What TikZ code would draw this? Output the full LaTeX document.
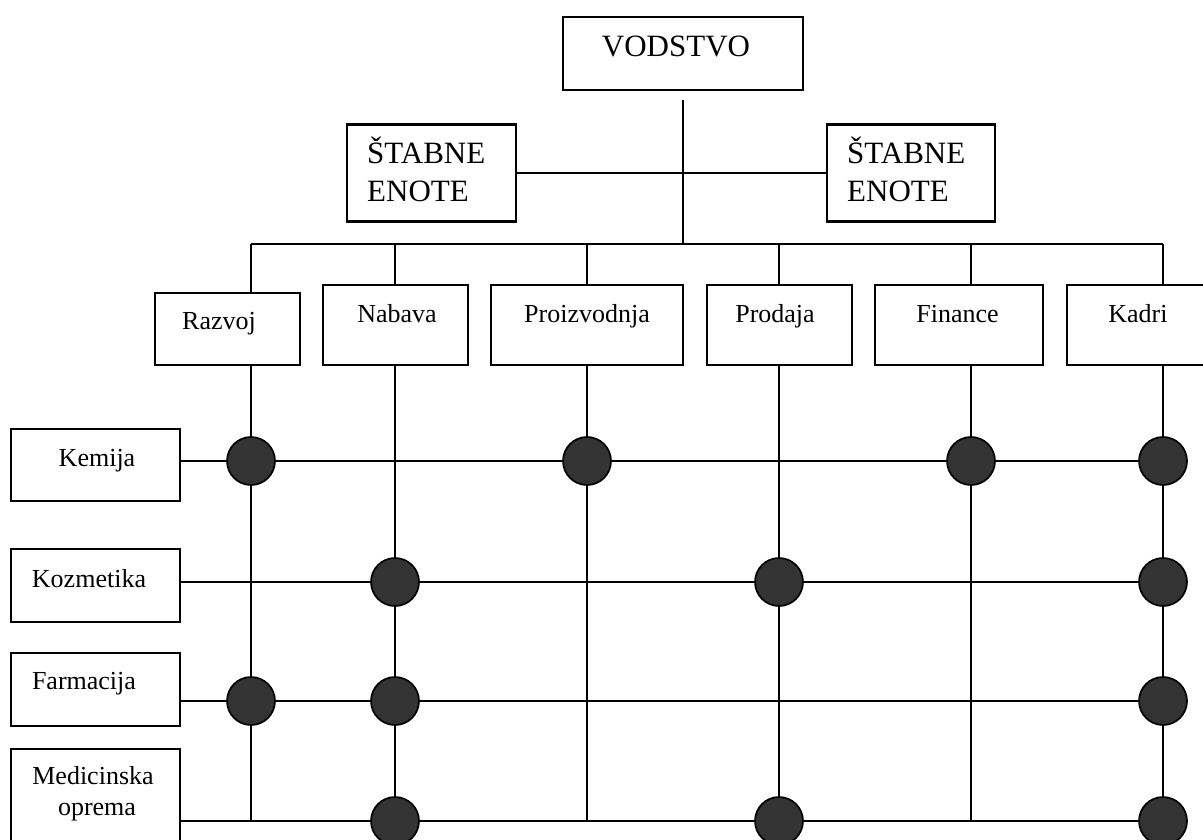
\documentclass[tikz,border=0pt]{standalone}
\usepackage{fontspec}
\setmainfont{Liberation Serif}
\definecolor{dotfill}{HTML}{333333}
\begin{document}
\begin{tikzpicture}[x=1pt,y=-1pt,
  box/.style={draw, line width=2.2pt, inner sep=0pt},
  wire/.style={line width=2pt},
  dot/.style={circle, draw, line width=1.7pt, fill=dotfill, minimum size=48pt, inner sep=0pt},
  bigtext/.style={inner sep=0pt, font=\fontsize{31}{36}\selectfont},
  lbl/.style={inner sep=0pt, anchor=base, font=\fontsize{26}{30}\selectfont}]
\useasboundingbox (0,0) rectangle (1203,840);
\clip (0,0) rectangle (1203,840);

% column and row positions of the matrix
\coordinate (c1) at (251,244);
\coordinate (c2) at (395,244);
\coordinate (c3) at (587,244);
\coordinate (c4) at (779,244);
\coordinate (c5) at (971,244);
\coordinate (c6) at (1163,244);
\coordinate (r1) at (180,461);
\coordinate (r2) at (180,582);
\coordinate (r3) at (180,701);
\coordinate (r4) at (180,821);
\coordinate (trunktop) at (683,100);
\coordinate (hub) at (683,244);

% top management and staff units
\node[box, minimum width=240pt, minimum height=73pt] (vod) at (683,53.5) {};
\node[bigtext, anchor=base] (vodt) at (676,57) {VODSTVO};
\node[box, minimum width=169pt, minimum height=97pt] (stabL) at (431.5,173) {};
\node[bigtext, anchor=base west] (stabL1) at (367,164) {ŠTABNE};
\node[bigtext, anchor=base west] (stabL2) at (367,202) {ENOTE};
\node[box, minimum width=168pt, minimum height=97pt] (stabR) at (911,173) {};
\node[bigtext, anchor=base west] (stabR1) at (847,164) {ŠTABNE};
\node[bigtext, anchor=base west] (stabR2) at (847,202) {ENOTE};

% functional departments
\node[box, minimum width=145pt, minimum height=72pt] (razvoj) at (227.5,329) {};
\node[box, minimum width=145pt, minimum height=80pt] (nabava) at (395.5,325) {};
\node[box, minimum width=192pt, minimum height=80pt] (proizv) at (587,325) {};
\node[box, minimum width=145pt, minimum height=80pt] (prodaja) at (779.5,325) {};
\node[box, minimum width=168pt, minimum height=80pt] (finance) at (959,325) {};
\node[box, minimum width=143pt, minimum height=80pt] (kadri) at (1138.5,325) {};
\node[lbl] (razvojt) at (219,329) {Razvoj};
\node[lbl] (nabavat) at (397,322) {Nabava};
\node[lbl] (proizvt) at (587,322) {Proizvodnja};
\node[lbl] (prodajat) at (775,322) {Prodaja};
\node[lbl] (financet) at (957.5,322) {Finance};
\node[lbl] (kadrit) at (1138,322) {Kadri};

% product divisions
\node[box, minimum width=169pt, minimum height=72pt] (kemija) at (95.5,465) {};
\node[box, minimum width=169pt, minimum height=73pt] (kozmetika) at (95.5,585.5) {};
\node[box, minimum width=169pt, minimum height=73pt] (farmacija) at (95.5,689.5) {};
\node[box, minimum width=169pt, minimum height=101pt] (medicinska) at (95.5,799.5) {};
\node[lbl] (kemijat) at (97,466) {Kemija};
\node[lbl] (kozmetikat) at (89,587) {Kozmetika};
\node[lbl] (farmacijat) at (84,689) {Farmacija};
\node[lbl] (medicinskat) at (93,784) {Medicinska};
\node[lbl] (opremat) at (97,815) {oprema};

% hierarchy lines
\draw[wire] (trunktop) -- (hub);
\draw[wire] (stabL.east) -- (stabR.west);
\draw[wire] (c1) -- (c6);
\draw[wire] (c1) -- (c1 |- razvoj.north);
\draw[wire] (c2) -- (c2 |- nabava.north);
\draw[wire] (c3) -- (c3 |- proizv.north);
\draw[wire] (c4) -- (c4 |- prodaja.north);
\draw[wire] (c5) -- (c5 |- finance.north);
\draw[wire] (c6) -- (c6 |- kadri.north);

% matrix columns
\draw[wire] (c1 |- razvoj.south) -- (c1 |- r4);
\draw[wire] (c2 |- nabava.south) -- (c2 |- r4);
\draw[wire] (c3 |- proizv.south) -- (c3 |- r4);
\draw[wire] (c4 |- prodaja.south) -- (c4 |- r4);
\draw[wire] (c5 |- finance.south) -- (c5 |- r4);
\draw[wire] (c6 |- kadri.south) -- (c6 |- r4);

% matrix rows
\draw[wire] (r1) -- (r1 -| c6);
\draw[wire] (r2) -- (r2 -| c6);
\draw[wire] (r3) -- (r3 -| c6);
\draw[wire] (r4) -- (r4 -| c6);

% responsibility dots
\node[dot] (d11) at (c1 |- r1) {};
\node[dot] (d13) at (c3 |- r1) {};
\node[dot] (d15) at (c5 |- r1) {};
\node[dot] (d16) at (c6 |- r1) {};
\node[dot] (d22) at (c2 |- r2) {};
\node[dot] (d24) at (c4 |- r2) {};
\node[dot] (d26) at (c6 |- r2) {};
\node[dot] (d31) at (c1 |- r3) {};
\node[dot] (d32) at (c2 |- r3) {};
\node[dot] (d36) at (c6 |- r3) {};
\node[dot] (d42) at (c2 |- r4) {};
\node[dot] (d44) at (c4 |- r4) {};
\node[dot] (d46) at (c6 |- r4) {};
\end{tikzpicture}
\end{document}
